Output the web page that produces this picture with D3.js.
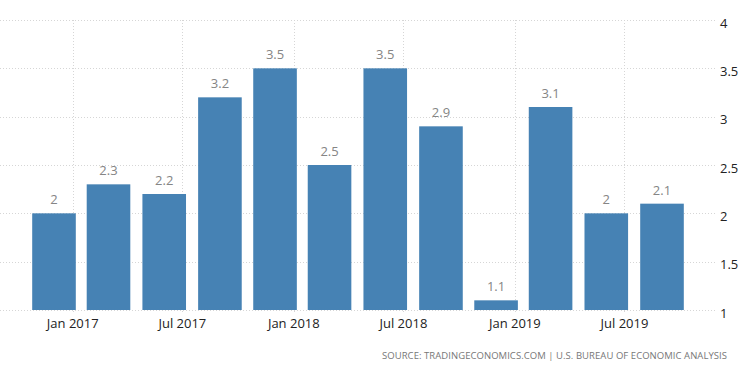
<!DOCTYPE html>
<html>
<head>
<meta charset="utf-8">
<script src="https://cdn.jsdelivr.net/npm/d3@7"></script>
<style>
  body { margin: 0; background: #fff; }
  svg { display: block; font-family: "Open Sans", sans-serif; }
  .grid line { stroke: #d6d6d6; stroke-dasharray: 1,2; }
</style>
</head>
<body>
<svg id="chart" width="750" height="373"></svg>
<script>
// quarterly figures, each placed at the last month of its quarter
var quarters = ["2016-12", "2017-03", "2017-06", "2017-09", "2017-12", "2018-03",
                "2018-06", "2018-09", "2018-12", "2019-03", "2019-06", "2019-09"];
var values = [2, 2.3, 2.2, 3.2, 3.5, 2.5, 3.5, 2.9, 1.1, 3.1, 2, 2.1];
var yTicks = [1, 1.5, 2, 2.5, 3, 3.5, 4];
var source = "SOURCE: TRADINGECONOMICS.COM | U.S. BUREAU OF ECONOMIC ANALYSIS";

var parse = d3.timeParse("%Y-%m");
var dates = quarters.map(parse);

var svg = d3.select("#chart");

var x = d3.scaleTime()
  .domain([dates[0], dates[dates.length - 1]])
  .range([54, 662]);

var y = d3.scaleLinear()
  .domain([1, 4])
  .range([310, 20]);

var barWidth = 43.6;

// horizontal dotted grid
svg.append("g").attr("class", "grid")
  .selectAll("line")
  .data(yTicks)
  .enter().append("line")
  .attr("x1", 0)
  .attr("x2", 716)
  .attr("y1", function(d) { return Math.round(y(d)) + 0.5; })
  .attr("y2", function(d) { return Math.round(y(d)) + 0.5; });

// vertical dotted grid at the Jan / Jul ticks
var xTicks = x.ticks(d3.timeMonth.every(6));

svg.append("g").attr("class", "grid")
  .selectAll("line")
  .data(xTicks)
  .enter().append("line")
  .attr("x1", function(d) { return Math.round(x(d)) + 0.5; })
  .attr("x2", function(d) { return Math.round(x(d)) + 0.5; })
  .attr("y1", y(4))
  .attr("y2", y(1) + 4);

// bars
svg.append("g")
  .selectAll("rect")
  .data(values)
  .enter().append("rect")
  .attr("x", function(d, i) { return x(dates[i]) - barWidth / 2; })
  .attr("width", barWidth)
  .attr("y", function(d) { return y(d); })
  .attr("height", function(d) { return y(1) - y(d); })
  .attr("fill", "#4682b4");

// value labels
svg.append("g")
  .selectAll("text")
  .data(values)
  .enter().append("text")
  .attr("x", function(d, i) { return x(dates[i]); })
  .attr("y", function(d) { return y(d) - 9; })
  .attr("text-anchor", "middle")
  .attr("font-size", 13)
  .attr("fill", "#858585")
  .text(function(d) { return d; });

// x axis labels
svg.append("g")
  .selectAll("text")
  .data(xTicks)
  .enter().append("text")
  .attr("x", function(d) { return x(d); })
  .attr("y", 328)
  .attr("text-anchor", "middle")
  .attr("font-size", 13)
  .attr("fill", "#222")
  .text(d3.timeFormat("%b %Y"));

// y axis labels, on the right
svg.append("g")
  .selectAll("text")
  .data(yTicks)
  .enter().append("text")
  .attr("x", 720)
  .attr("y", function(d) { return y(d) + 3; })
  .attr("dy", "0.35em")
  .attr("font-size", 13)
  .attr("fill", "#222")
  .text(function(d) { return d; });

// source line
svg.append("text")
  .attr("x", 727)
  .attr("y", 359)
  .attr("text-anchor", "end")
  .attr("font-size", 9.5)
  .attr("textLength", 345)
  .attr("lengthAdjust", "spacing")
  .attr("fill", "#777")
  .text(source);
</script>
</body>
</html>
